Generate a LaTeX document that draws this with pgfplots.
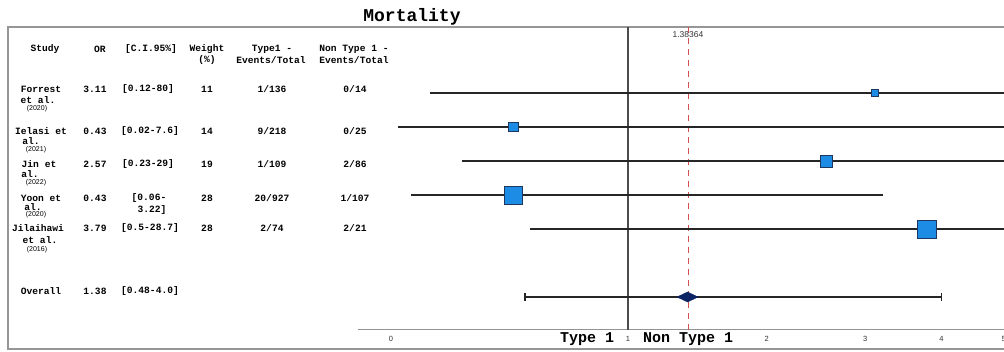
\documentclass[border=0pt]{standalone}
\usepackage{pgfplots}
\pgfplotsset{compat=1.18}
\usepackage{pgfplotstable}
\usepackage{fontspec}
\setmainfont{Liberation Sans}
\setsansfont{Liberation Sans}
\setmonofont{Liberation Mono}

\definecolor{boxblue}{RGB}{28,140,228}
\definecolor{boxedge}{RGB}{30,55,95}
\definecolor{navy}{RGB}{12,35,100}
\definecolor{refred}{RGB}{210,80,80}
\definecolor{framegray}{RGB}{150,150,150}

% study rows: row index, odds ratio, CI low, CI high, weight (%)
\pgfplotstableread{
row or lo hi w
1 3.11 0.12 80 11
2 0.43 0.02 7.6 14
3 2.57 0.23 29 19
4 0.43 0.06 3.22 28
5 3.79 0.5 28.7 28
}\studies
\pgfplotstableread{
row or lo hi
7 1.38 0.48 4.0
}\overall
\pgfplotstableread{
row v
7 0.48
7 4.0
}\overallci

\newcommand\tb{\ttfamily\bfseries\fontsize{9.6}{11}\selectfont}
\newcommand\yr{\sffamily\fontsize{7}{8}\selectfont}
\newcommand\T[3]{\node[font=\tb, inner sep=0pt] at (#1pt,-#2pt) {#3};}
\newcommand\Y[3]{\node[font=\yr, inner sep=0pt] at (#1pt,-#2pt) {#3};}

\begin{document}
\begin{tikzpicture}
\useasboundingbox (0pt,0pt) rectangle (1004pt,-352pt);
\clip (0pt,0pt) rectangle (1004pt,-352pt);
\fill[white] (0pt,0pt) rectangle (1004pt,-352pt);
% frame
\draw[framegray, line width=1.6pt] (8pt,-27pt) rectangle (1012pt,-349pt);

\begin{axis}[
  at={(358pt,-329.5pt)}, anchor=south west,
  scale only axis, width=652pt, height=302.5pt,
  xmin=-0.09649, xmax=1.80994,
  ymin=-0.941, ymax=7.956, y dir=reverse,
  axis x line=bottom, axis y line=none,
  x axis line style={-, draw=gray!85, line width=1.3pt},
  xtick={0,0.693147,1.098612,1.386294,1.609438,1.791759},
  xticklabels={0,1,2,3,4,5},
  major tick length=0pt,
  xticklabel style={font=\sffamily\fontsize{7.5}{9}\selectfont, text=black!80, yshift=-3.5pt},
  ytick=\empty,
  clip=true,
]
% line of no effect at 1
\addplot [black!70, line width=1.4pt] table [row sep=\\, x expr=ln(1+\thisrow{x}), y=y] {x y\\ 1 -0.941\\ 1 7.956\\};
% pooled estimate reference
\addplot [refred, line width=0.9pt, dash pattern=on 6pt off 5pt] table [row sep=\\, x expr=ln(1+\thisrow{x}), y=y] {x y\\ 1.38364 -0.941\\ 1.38364 7.956\\};
% study confidence intervals
\addplot [only marks, mark=none,
  error bars/.cd, x dir=both, x explicit, error mark=none,
  error bar style={line width=1.3pt, draw=black!85}]
  table [x expr=ln(1+\thisrow{or}), y=row,
         x error plus expr=ln(1+\thisrow{hi})-ln(1+\thisrow{or}),
         x error minus expr=ln(1+\thisrow{or})-ln(1+\thisrow{lo})] {\studies};
% study squares sized by weight
\addplot [scatter, only marks, mark=square*,
  scatter/use mapped color={draw=boxedge, fill=boxblue},
  visualization depends on={0.33*\thisrow{w} \as \sz},
  scatter/@pre marker code/.append style={/tikz/mark size=\sz, /tikz/line width=0.8pt}]
  table [x expr=ln(1+\thisrow{or}), y=row] {\studies};
% overall CI
\addplot [black!85, line width=1.3pt, mark=|, mark size=4pt, mark options={line width=1.3pt}]
  table [x expr=ln(1+\thisrow{v}), y=row] {\overallci};
% overall diamond
\addplot [only marks, mark=diamond*, mark size=5pt, mark options={xscale=2.8, fill=navy, draw=navy}]
  table [x expr=ln(1+\thisrow{or}), y=row] {\overall};
\end{axis}

% title
\node[font=\ttfamily\bfseries\fontsize{18}{21}\selectfont, inner sep=0pt] at (412pt,-17pt) {Mortality};
\node[font=\sffamily\fontsize{8.5}{10}\selectfont, text=black!80, inner sep=0pt] at (688pt,-35pt) {1.38364};
\node[font=\ttfamily\bfseries\fontsize{15}{18}\selectfont, inner sep=0pt] at (587pt,-339.5pt) {Type 1};
\node[font=\ttfamily\bfseries\fontsize{15}{18}\selectfont, inner sep=0pt] at (688pt,-339.5pt) {Non Type 1};

% header
\T{45}{49}{Study}
\T{100}{49}{OR}
\T{151}{49}{[C.I.95\%]}
\T{207}{49}{Weight}
\T{207}{60}{(\%)}
\T{272}{49}{Type1 -}
\T{271}{60}{Events/Total}
\T{354}{49}{Non Type 1 -}
\T{354}{60}{Events/Total}

% Forrest
\T{41}{89}{Forrest}
\T{38}{100}{et al.}
\Y{37}{109}{(2020)}
\T{95}{89}{3.11}
\T{148}{89}{[0.12-80]}
\T{207}{89}{11}
\T{272}{89}{1/136}
\T{355}{89}{0/14}

% Ielasi
\T{41}{131}{Ielasi et}
\T{31}{141}{al.}
\Y{36}{150}{(2021)}
\T{95}{131}{0.43}
\T{150}{131}{[0.02-7.6]}
\T{207}{131}{14}
\T{272}{131}{9/218}
\T{355}{131}{0/25}

% Jin
\T{39}{164}{Jin et}
\T{30}{174}{al.}
\Y{36}{183}{(2022)}
\T{95}{164}{2.57}
\T{148}{164}{[0.23-29]}
\T{207}{164}{19}
\T{272}{164}{1/109}
\T{355}{164}{2/86}

% Yoon
\T{41}{198}{Yoon et}
\T{33}{207}{al.}
\Y{36}{215}{(2020)}
\T{95}{198}{0.43}
\T{149}{198}{[0.06-}
\T{152}{210}{3.22]}
\T{207}{198}{28}
\T{272}{198}{20/927}
\T{355}{198}{1/107}

% Jilaihawi
\T{38}{228}{Jilaihawi}
\T{40}{240}{et al.}
\Y{37}{250}{(2016)}
\T{95}{228}{3.79}
\T{150}{228}{[0.5-28.7]}
\T{207}{228}{28}
\T{272}{228}{2/74}
\T{355}{228}{2/21}

% Overall
\T{41}{291}{Overall}
\T{95}{291}{1.38}
\T{150}{291}{[0.48-4.0]}
\end{tikzpicture}
\end{document}
